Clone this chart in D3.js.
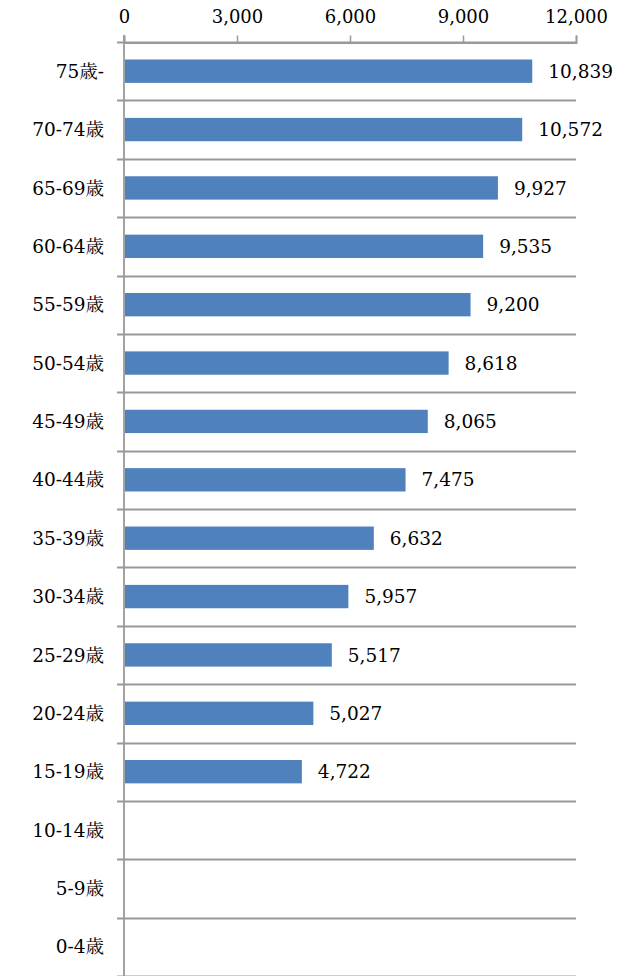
<!DOCTYPE html>
<html><head><meta charset="utf-8">
<script src="https://cdn.jsdelivr.net/npm/d3@7"></script>
<style>body{margin:0;background:#fff}</style>
</head><body>
<svg id="c" width="637" height="976"></svg>
<script>
const categories = ["75歳-","70-74歳","65-69歳","60-64歳","55-59歳","50-54歳","45-49歳","40-44歳","35-39歳","30-34歳","25-29歳","20-24歳","15-19歳","10-14歳","5-9歳","0-4歳"];
const values = [10839,10572,9927,9535,9200,8618,8065,7475,6632,5957,5517,5027,4722,null,null,null];
const tickValues = [0,3000,6000,9000,12000];

const svg = d3.select("#c");
const font = "'DejaVu Serif','Noto Serif CJK JP','Noto Sans CJK JP',serif";
const x = d3.scaleLinear().domain([0,12000]).range([124,576]);
const y = d3.scaleBand().domain(categories).range([42,976]).paddingInner(0.6).paddingOuter(0.3);
const band = (976-42)/categories.length;

// horizontal gridlines (category separators)
const gl = d3.range(categories.length+1).map(i=>42+i*band);
svg.append("g").selectAll("line").data(gl).join("line")
  .attr("x1",117).attr("x2",576).attr("y1",d=>Math.round(d)+0.5).attr("y2",d=>Math.round(d)+0.5)
  .attr("stroke","#999").attr("stroke-width",1.8);

// top axis
const ax = svg.append("g").attr("transform","translate(0,42.5)")
  .call(d3.axisTop(x).tickValues(tickValues).tickSize(7).tickFormat(d3.format(",")));
ax.attr("font-family",null).attr("font-size",null);
ax.select(".domain").attr("stroke","#999").attr("stroke-width",1.8);
ax.selectAll(".tick line").attr("stroke","#999").attr("stroke-width",1.5);
ax.selectAll(".tick text").style("font-family",font).style("font-size","18px").attr("fill","#000").attr("y",-19.5);

// vertical axis line
svg.append("line").attr("x1",124).attr("x2",124).attr("y1",35).attr("y2",976)
  .attr("stroke","#999").attr("stroke-width",1.8);

const data = categories.map((c,i)=>({c,v:values[i]})).filter(d=>d.v!=null);

svg.append("g").selectAll("rect").data(data).join("rect")
  .attr("x",x(0)+1).attr("y",d=>y(d.c)).attr("width",d=>x(d.v)-x(0)-1).attr("height",y.bandwidth())
  .attr("fill","#4f81bd");

svg.append("g").selectAll("text").data(data).join("text")
  .attr("x",d=>x(d.v)+16).attr("y",d=>y(d.c)+y.bandwidth()/2).attr("dy","0.36em")
  .style("font-family",font).style("font-size","18.5px").text(d=>d3.format(",")(d.v));

svg.append("g").selectAll("text").data(categories).join("text")
  .attr("x",104).attr("y",(d,i)=>42+band*(i+0.5)).attr("dy","0.36em").attr("text-anchor","end")
  .style("font-family",font).style("font-size","18.5px").text(d=>d);
</script>
</body></html>
